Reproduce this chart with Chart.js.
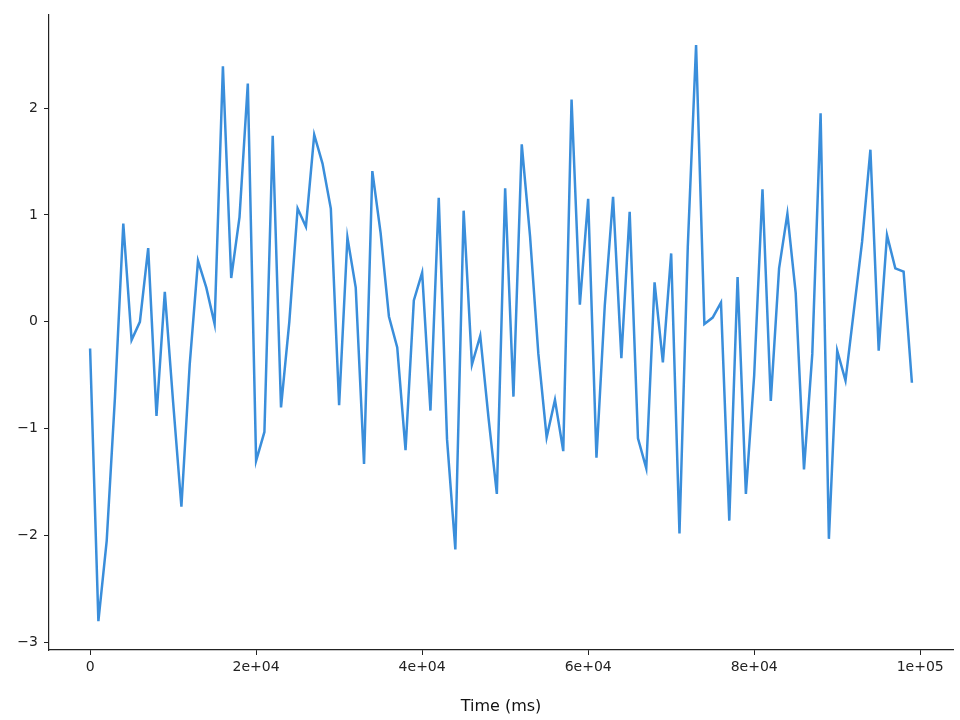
<!DOCTYPE html>
<html>
<head>
<meta charset="utf-8">
<script src="https://cdn.jsdelivr.net/npm/chart.js@4"></script>
<style>
  html, body { margin: 0; padding: 0; background: #fff; }
  #wrap { width: 960px; height: 720px; }
</style>
</head>
<body>
<div id="wrap"><canvas id="chart"></canvas></div>
<script>
// time in ms, one sample every 1000 ms
const times = [];
for (let i = 0; i < 100; i++) times.push(i * 1000);

// signal values
const values = [
  -0.25, -2.80, -2.05, -0.70, 0.92, -0.17, 0.00, 0.69, -0.88, 0.28,
  -0.75, -1.73, -0.40, 0.57, 0.32, -0.02, 2.39, 0.41, 0.98, 2.23,
  -1.30, -1.03, 1.74, -0.80, 0.00, 1.06, 0.89, 1.75, 1.48, 1.06,
  -0.78, 0.79, 0.32, -1.33, 1.41, 0.83, 0.05, -0.24, -1.20, 0.20,
  0.46, -0.83, 1.16, -1.10, -2.13, 1.04, -0.40, -0.13, -0.90, -1.61,
  1.25, -0.70, 1.66, 0.80, -0.30, -1.08, -0.73, -1.21, 2.08, 0.16,
  1.15, -1.27, 0.15, 1.17, -0.34, 1.03, -1.09, -1.37, 0.37, -0.38,
  0.64, -1.98, 0.70, 2.59, -0.02, 0.04, 0.18, -1.86, 0.42, -1.61,
  -0.50, 1.24, -0.74, 0.50, 1.01, 0.27, -1.38, -0.30, 1.95, -2.03,
  -0.27, -0.55, 0.10, 0.75, 1.61, -0.27, 0.81, 0.50, 0.47, -0.57
];

const xTicks = [0, 20000, 40000, 60000, 80000, 100000];
const xTickLabels = ['0', '2e+04', '4e+04', '6e+04', '8e+04', '1e+05'];
const yTicks = [-3, -2, -1, 0, 1, 2];

const points = times.map((t, i) => ({ x: t, y: values[i] }));
const font = { family: 'DejaVu Sans', size: 14 };

new Chart(document.getElementById('chart'), {
  type: 'line',
  data: {
    datasets: [{
      data: points,
      borderColor: '#3a8edb',
      borderWidth: 2.5,
      pointRadius: 0,
      tension: 0,
      fill: false
    }]
  },
  options: {
    responsive: true,
    maintainAspectRatio: false,
    animation: false,
    layout: { padding: { top: -3, right: 7, left: 0, bottom: 0 } },
    plugins: { legend: { display: false }, tooltip: { enabled: false } },
    scales: {
      x: {
        type: 'linear',
        min: -4950,
        max: 103950,
        afterBuildTicks: s => { s.ticks = xTicks.map(v => ({ value: v })); },
        afterFit: s => { s.height = 70; },
        ticks: {
          color: '#222', font: font, maxRotation: 0, padding: 4,
          callback: v => xTickLabels[xTicks.indexOf(v)]
        },
        grid: { drawOnChartArea: false, drawTicks: true, tickLength: 5, color: '#222' },
        border: { display: true, color: '#222', width: 1.2 },
        title: { display: true, text: 'Time (ms)', color: '#111', font: { family: 'DejaVu Sans', size: 16 }, padding: { top: 0 } }
      },
      y: {
        min: -3.07,
        max: 2.876,
        afterBuildTicks: s => { s.ticks = yTicks.map(v => ({ value: v })); },
        afterFit: s => { s.width = 49; },
        ticks: {
          color: '#222', font: font, padding: 6,
          callback: v => (v < 0 ? '\u2212' + Math.abs(v) : String(v))
        },
        grid: { drawOnChartArea: false, drawTicks: true, tickLength: 5, color: '#222' },
        border: { display: true, color: '#222', width: 1.2 }
      }
    }
  }
});
</script>
</body>
</html>
